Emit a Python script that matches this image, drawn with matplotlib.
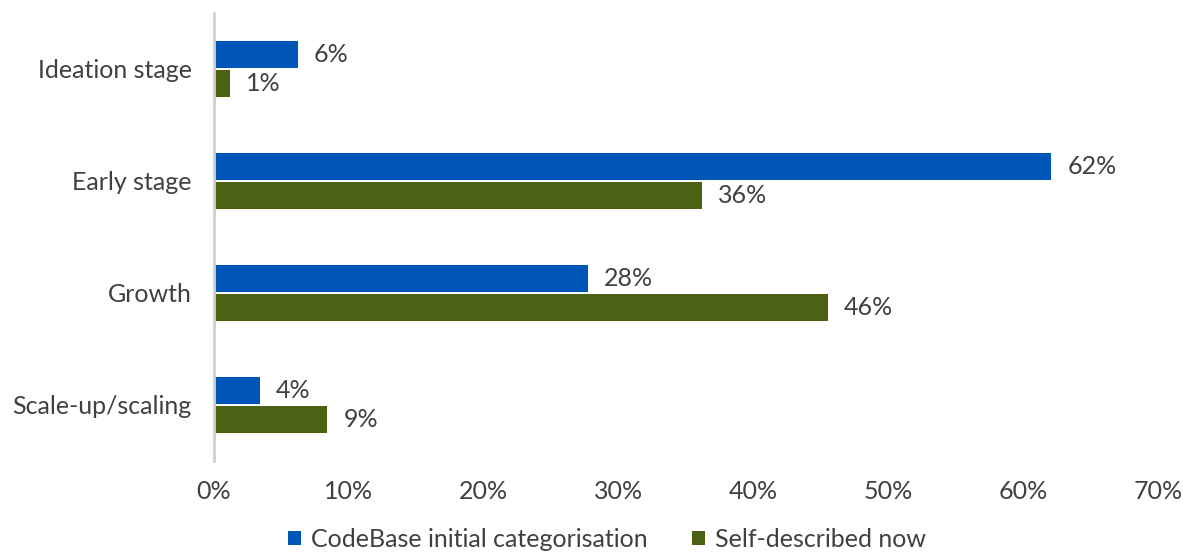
import matplotlib
matplotlib.use("Agg")
import matplotlib.pyplot as plt
import numpy as np

categories = ["Ideation stage", "Early stage", "Growth", "Scale-up/scaling"]
codebase = [6.2, 62.1, 27.7, 3.4]
self_desc = [1.2, 36.2, 45.5, 8.4]
codebase_labels = ["6%", "62%", "28%", "4%"]
self_labels = ["1%", "36%", "46%", "9%"]
series_names = ["CodeBase initial categorisation", "Self-described now"]
xticks = [0, 10, 20, 30, 40, 50, 60, 70]

plt.rcParams['font.family'] = ['Lato', 'DejaVu Sans']
txt = "#404040"
blue = "#0055B8"
green = "#4B6114"
fs = 18

fig = plt.figure(figsize=(11.83, 5.54), dpi=100)
ax = fig.add_axes([214/1183, 1-461/554, (1158-214)/1183, (461-13)/554])

y = np.arange(len(categories))
h = 0.24
ax.barh(y - h/2 - 0.01, codebase, height=h, color=blue, label=series_names[0])
ax.barh(y + h/2 + 0.01, self_desc, height=h, color=green, label=series_names[1])

for i in range(len(categories)):
    ax.text(codebase[i] + 1.2, y[i] - h/2 - 0.01, codebase_labels[i], va="center", ha="left", fontsize=fs, color=txt)
    ax.text(self_desc[i] + 1.2, y[i] + h/2 + 0.01, self_labels[i], va="center", ha="left", fontsize=fs, color=txt)

ax.set_ylim(3.5, -0.5)
ax.set_xlim(0, 70)
ax.set_yticks(y)
ax.set_yticklabels(categories, fontsize=fs, color=txt)
ax.set_xticks(xticks)
ax.set_xticklabels([f"{v}%" for v in xticks], fontsize=fs, color=txt)
ax.tick_params(axis="both", length=0)
ax.tick_params(axis="y", pad=16)
ax.tick_params(axis="x", pad=14)
for s in ["top", "right", "bottom"]:
    ax.spines[s].set_visible(False)
ax.spines["left"].set_color("#d0d0d0")
ax.spines["left"].set_linewidth(2)

fig.legend(loc="lower center", bbox_to_anchor=(0.513, -0.035), ncol=2, frameon=False,
           fontsize=fs, labelcolor=txt, handlelength=0.5, handleheight=0.5,
           handletextpad=0.4, columnspacing=1.8)

fig.savefig("out.png", dpi=100)
